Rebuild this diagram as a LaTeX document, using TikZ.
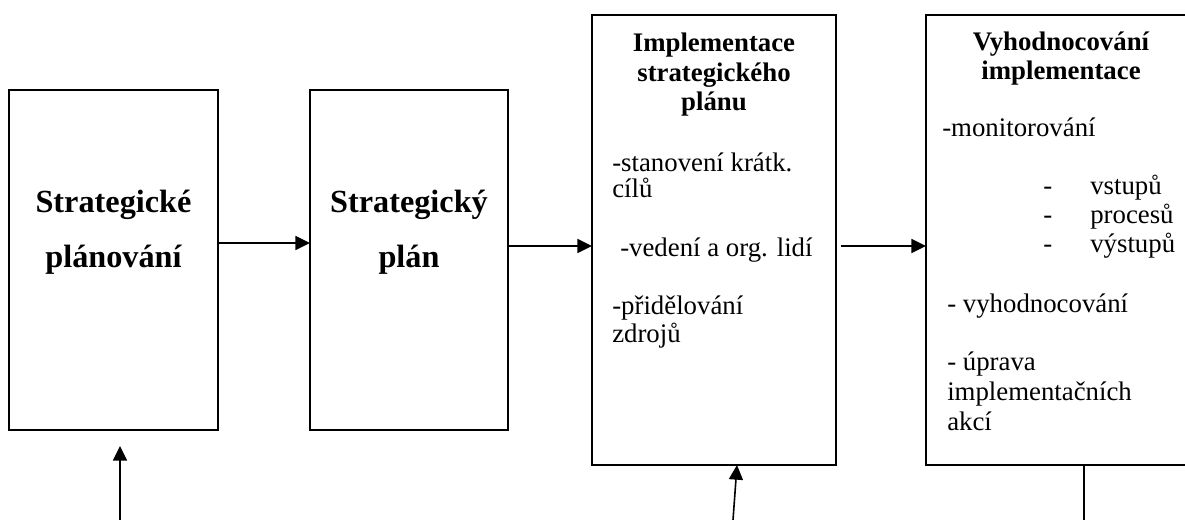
\documentclass[tikz,border=0pt]{standalone}
\usepackage{fontspec}
\setmainfont{Liberation Serif}
\usetikzlibrary{arrows.meta}
\begin{document}
\begin{tikzpicture}[x=0.75pt,y=-0.75pt,
  box/.style={draw, line width=1.2pt, inner sep=0pt, outer sep=0pt, anchor=north west},
  arr/.style={line width=1.2pt, -{Triangle[length=11pt,width=10.5pt]}},
  conn/.style={line width=1.2pt},
  big/.style={font=\fontsize{24.2}{30}\selectfont\bfseries, anchor=base, inner sep=0pt},
  head/.style={font=\fontsize{20.1}{22}\selectfont\bfseries, anchor=base, inner sep=0pt},
  body/.style={font=\fontsize{20.1}{22}\selectfont, anchor=base west, inner sep=0pt},
]
\useasboundingbox (0,0) rectangle (1185,520);

% boxes
\node[box, minimum width=156.75pt, minimum height=255pt] (b1) at (9,90) {};
\node[box, minimum width=148.5pt, minimum height=255pt] (b2) at (310,90) {};
\node[box, minimum width=183pt, minimum height=337.5pt] (b3) at (592,15) {};
\node[box, minimum width=202.5pt, minimum height=337.5pt] (b4) at (926,15) {};

% box 1 and 2 titles
\node[big] (t1a) at (113.5,213) {Strategické};
\node[big] (t1b) at (113.5,268) {plánování};
\node[big] (t2a) at (409,213) {Strategický};
\node[big] (t2b) at (409,268) {plán};

% box 3
\node[head] (t3a) at (714,52) {Implementace};
\node[head] (t3b) at (714,82) {strategického};
\node[head] (t3c) at (714,111) {plánu};
\node[body] (t3d) at (612,172) {-stanovení krátk.};
\node[body] (t3e) at (612,198) {cílů};
\node[body] (t3f) at (620,257) {-vedení a org. lidí};
\node[body] (t3g) at (612,315) {-přidělování};
\node[body] (t3h) at (612,343) {zdrojů};

% box 4
\node[head] (t4a) at (1061,51) {Vyhodnocování};
\node[head] (t4b) at (1061,80) {implementace};
\node[body] (t4c) at (942,137) {-monitorování};
\node[body] (d1) at (1043,195) {-};
\node[body] (d2) at (1043,224) {-};
\node[body] (d3) at (1043,253) {-};
\node[body] (t4d) at (1090,195) {vstupů};
\node[body] (t4e) at (1090,224) {procesů};
\node[body] (t4f) at (1090,253) {výstupů};
\node[body] (t4g) at (947,313) {- vyhodnocování};
\node[body] (t4h) at (947,370) {- úprava};
\node[body] (t4i) at (947,400) {implementačních};
\node[body] (t4j) at (947,430) {akcí};

% connector helper coordinates
\coordinate (y1) at (0,243);
\coordinate (y2) at (0,246);
\coordinate (a3s) at (841,246);
\coordinate (u1s) at (120,520);
\coordinate (u1e) at (120,446);
\coordinate (u2s) at (733,520);
\coordinate (u2e) at (737,465);
\coordinate (l4s) at (1084,465);
\coordinate (l4e) at (1084,520);

\draw[arr] (b1.east |- y1) -- (b2.west |- y1);
\draw[arr] (b2.east |- y2) -- (b3.west |- y2);
\draw[arr] (a3s) -- (b4.west |- y2);
\draw[arr] (u1s) -- (u1e);
\draw[arr] (u2s) -- (u2e);
\draw[conn] (l4s) -- (l4e);
\end{tikzpicture}
\end{document}
